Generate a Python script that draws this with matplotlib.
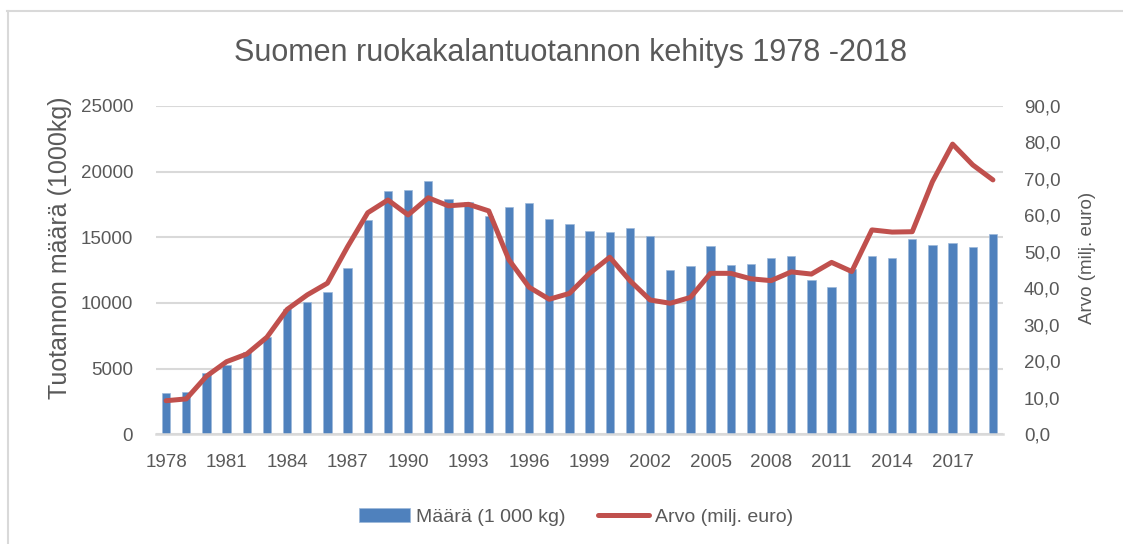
import matplotlib
matplotlib.use('Agg')
import matplotlib.pyplot as plt
from matplotlib.ticker import FuncFormatter, FixedLocator

# data
years = list(range(1978, 2020))
maara = [3170, 3240, 4650, 5300, 6290, 7430, 9510, 10040, 10850, 12630,
         16310, 18540, 18570, 19250, 17880, 17700, 16640, 17270, 17630, 16380,
         15980, 15450, 15370, 15700, 15090, 12530, 12790, 14320, 12860, 12980,
         13420, 13590, 11740, 11230, 12600, 13570, 13420, 14840, 14380, 14530,
         14280, 15240]
arvo = [9.2, 9.7, 15.9, 19.9, 22.0, 26.6, 34.2, 38.2, 41.4, 51.4,
        60.7, 64.2, 60.1, 64.8, 62.6, 63.0, 61.2, 47.8, 40.3, 37.0,
        38.6, 44.1, 48.5, 42.1, 36.8, 35.9, 37.5, 44.1, 44.1, 42.6,
        42.1, 44.5, 43.9, 47.1, 44.6, 56.0, 55.4, 55.5, 69.2, 79.5,
        73.8, 69.7]
left_ticks = [0, 5000, 10000, 15000, 20000, 25000]
right_ticks = [0, 10, 20, 30, 40, 50, 60, 70, 80, 90]

plt.rcParams['font.family'] = 'Liberation Sans'

txt = '#595959'
blue = '#4F81BD'
red = '#C0504D'
grid = '#D9D9D9'
W, H = 1123, 544

fig = plt.figure(figsize=(11.23, 5.44), dpi=100)
ax = fig.add_axes([156 / W, 1 - 434.3 / H, 847 / W, 328.5 / H])
ax2 = ax.twinx()

x = list(range(len(years)))
ax.bar(x, maara, width=0.41, color=blue, edgecolor='#9DB8DA', linewidth=0.5,
       label='Määrä (1 000 kg)', zorder=2)
ax2.plot(x, arvo, color=red, linewidth=3.6, solid_capstyle='round',
         solid_joinstyle='round', label='Arvo (milj. euro)')

ax.set_xlim(-0.5, len(years) - 0.5)
ax.set_ylim(0, 25000)
ax2.set_ylim(0, 90)

ax.yaxis.set_major_locator(FixedLocator(left_ticks))
ax.grid(axis='y', color=grid, linewidth=1.5, zorder=0)
ax.set_axisbelow(True)
ax.set_xticks(x[::3])
ax.set_xticklabels([str(y) for y in years[::3]])
ax2.yaxis.set_major_locator(FixedLocator(right_ticks))
ax2.yaxis.set_major_formatter(FuncFormatter(lambda v, p: f'{v:.1f}'.replace('.', ',')))

for a in (ax, ax2):
    for s in a.spines.values():
        s.set_visible(False)
    a.tick_params(length=0, labelsize=13.5, colors=txt)
ax.spines['bottom'].set_visible(True)
ax.spines['bottom'].set_color(grid)
ax.spines['bottom'].set_linewidth(1.8)
ax.tick_params(axis='y', pad=16.5)
ax.tick_params(axis='x', pad=14)
ax2.tick_params(axis='y', pad=15)

fig.text(60 / W, 1 - 248 / H, 'Tuotannon määrä (1000kg)', rotation=90,
         ha='center', va='center', fontsize=18, color=txt)
fig.text(1087 / W, 1 - 258 / H, 'Arvo (milj. euro)', rotation=90,
         ha='center', va='center', fontsize=13.5, color=txt)

fig.text(570 / W, 1 - 52.5 / H, 'Suomen ruokakalantuotannon kehitys 1978 -2018',
         ha='center', va='center', fontsize=22, color=txt)

h1, l1 = ax.get_legend_handles_labels()
h2, l2 = ax2.get_legend_handles_labels()
fig.legend(h1 + h2, l1 + l2, loc='center', bbox_to_anchor=(576 / W, 1 - 517 / H),
           ncol=2, frameon=False, fontsize=14, labelcolor=txt,
           handlelength=2.6, handletextpad=0.3, columnspacing=1.7)

# light frame on top and left like the clipped chart border
fig.add_artist(plt.Line2D([7 / W, 1], [1 - 10.5 / H, 1 - 10.5 / H],
                          color=grid, linewidth=1.5, transform=fig.transFigure))
fig.add_artist(plt.Line2D([7.5 / W, 7.5 / W], [0, 1 - 10.5 / H],
                          color=grid, linewidth=1.5, transform=fig.transFigure))

fig.savefig('out.png', dpi=100)
